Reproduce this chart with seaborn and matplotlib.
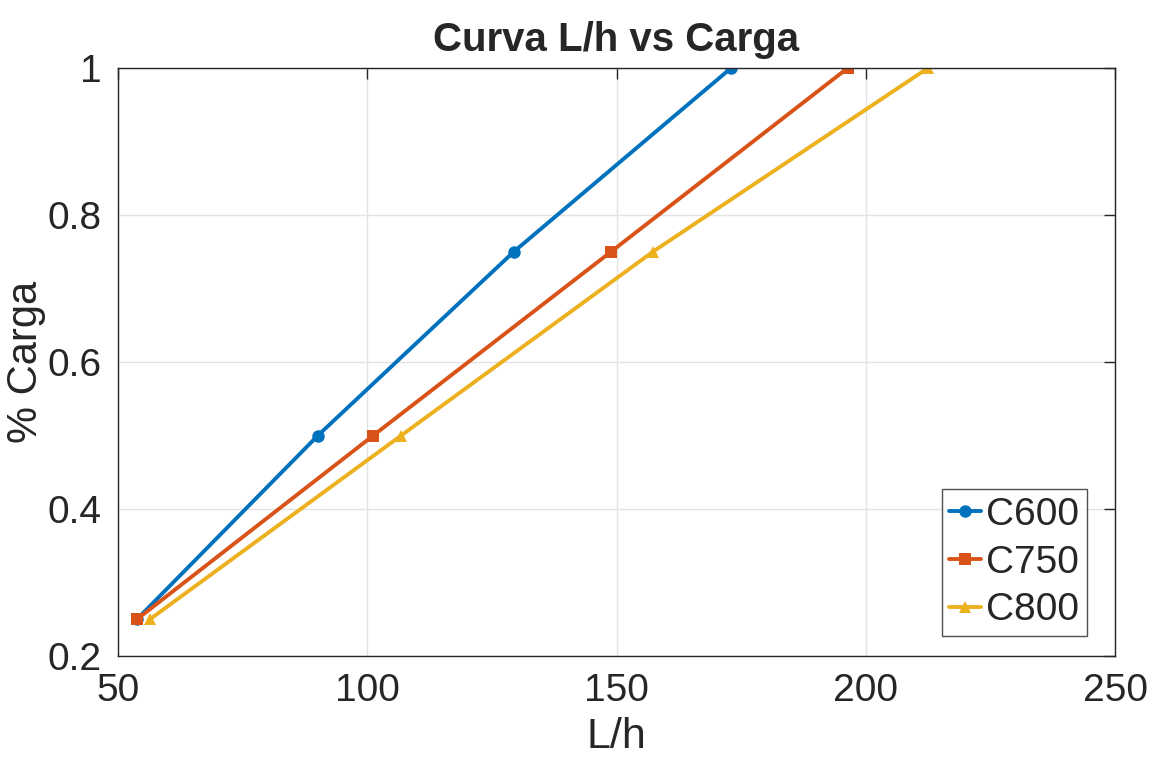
import pandas as pd
import numpy as np
import matplotlib
matplotlib.use('Agg')
import matplotlib.pyplot as plt
import seaborn as sns

carga = [0.25, 0.5, 0.75, 1.0]
c600 = [53.8, 90.1, 129.4, 173.0]
c750 = [53.8, 101.2, 148.9, 196.4]
c800 = [56.4, 106.8, 157.3, 212.5]
series = ['C600', 'C750', 'C800']
colors = ['#0072BD', '#D95319', '#EDB120']
markers = ['o', 's', '^']

sns.set_style('white')
plt.rcParams['font.family'] = ['Liberation Sans', 'DejaVu Sans']

df = pd.DataFrame({
    'L/h': c600 + c750 + c800,
    'Carga': carga * 3,
    'Serie': [s for s in series for _ in carga],
})

fig = plt.figure(figsize=(11.58, 7.81), dpi=100)
ax = fig.add_axes([0.1019, 0.160, 0.861, 0.753])
sns.lineplot(data=df, x='L/h', y='Carga', hue='Serie', style='Serie',
             palette=colors, markers=markers, dashes=False, linewidth=2.8,
             markersize=9, markeredgewidth=0, sort=False, ax=ax)

ax.set_xlim(50, 250)
ax.set_ylim(0.2, 1.0)
ax.set_xticks([50, 100, 150, 200, 250])
ax.set_yticks([0.2, 0.4, 0.6, 0.8, 1.0])
ax.set_yticklabels(['0.2', '0.4', '0.6', '0.8', '1'])
ax.grid(True, color='#e3e3e3', linewidth=1)
ax.tick_params(direction='in', length=8, width=1, colors='#262626',
               labelsize=28, top=True, right=True, pad=12)
for sp in ax.spines.values():
    sp.set_color('#262626')
    sp.set_linewidth(1)
ax.set_xlabel('L/h', fontsize=31, labelpad=6, color='#262626')
ax.set_ylabel('% Carga', fontsize=30, color='#262626')
ax.yaxis.set_label_coords(-0.072, 0.5)
ax.set_title('Curva L/h vs Carga', fontsize=29, fontweight='bold', pad=12)

leg = ax.legend(loc='lower right', fontsize=28, frameon=True, fancybox=False,
                handlelength=0.8, handletextpad=0.15, borderpad=0.2,
                labelspacing=0.3, borderaxespad=0,
                bbox_to_anchor=(0.972, 0.034))
leg.get_frame().set_edgecolor('#262626')
leg.get_frame().set_linewidth(1)

fig.savefig('out.png', dpi=100)
